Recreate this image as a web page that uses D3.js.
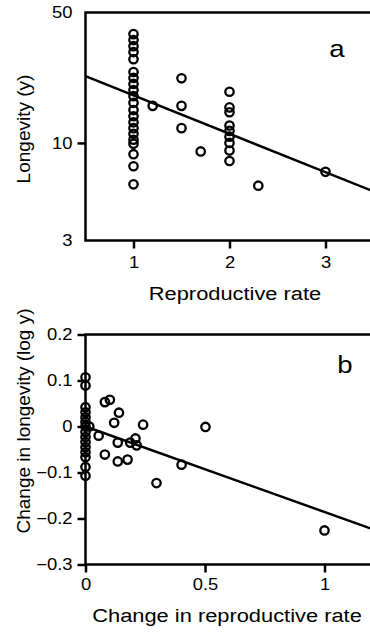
<!DOCTYPE html>
<html>
<head>
<meta charset="utf-8">
<script src="https://cdn.jsdelivr.net/npm/d3@7/dist/d3.min.js"></script>
<style>
  body { margin: 0; background: #fff; }
  svg { display: block; font-family: "Liberation Sans", Arial, sans-serif; }
  .frame { fill: none; stroke: #000; stroke-width: 2.5; }
  .dot { fill: none; stroke: #000; stroke-width: 2.3; }
  .fit { fill: none; stroke: #000; stroke-width: 2.5; }
  .tick line { stroke: #000; stroke-width: 2.5; }
  .tick text { font-size: 16px; fill: #000; }
  .axis-label { font-size: 19px; fill: #000; }
  .panel-label { font-size: 24px; fill: #000; }
</style>
</head>
<body>
<svg width="370" height="635"></svg>
<script>
// panel a: reproductive rate vs longevity (years)
const rateA = [1, 1, 1, 1, 1, 1, 1, 1, 1, 1, 1, 1, 1, 1, 1, 1, 1, 1, 1, 1, 1,
  1.2, 1.5, 1.5, 1.5, 1.7, 2, 2, 2, 2, 2, 2, 2, 2, 2, 2.3, 3];
const longevityA = [38.3, 35.6, 33.0, 30.7, 28.1, 24.0, 22.3, 20.7, 19.2, 17.8, 16.4,
  15.0, 13.9, 12.9, 12.0, 11.2, 10.4, 9.9, 8.7, 7.5, 6.0,
  15.8, 22.2, 15.8, 12.0, 9.0, 18.8, 15.5, 14.6, 12.4, 11.6, 10.8, 10.0, 9.1, 8.0, 5.9, 7.0];
const fitAx = [0.5, 3.5];
const fitAy = [22.8, 5.5];
const ticksAx = [1, 2, 3];
const ticksAy = [3, 10, 50];

// panel b: change in reproductive rate vs change in longevity (log y)
const rateB = [0, 0, 0, 0, 0, 0, 0, 0, 0, 0, 0, 0, 0, 0, 0,
  0.016, 0.081, 0.102, 0.14, 0.12, 0.241, 0.055, 0.135, 0.187, 0.209, 0.214,
  0.081, 0.135, 0.176, 0.502, 0.402, 0.297, 1.0];
const longevityB = [0.107, 0.089, 0.042, 0.031, 0.020, 0.010, 0, -0.012, -0.023, -0.034,
  -0.045, -0.056, -0.067, -0.088, -0.107,
  0.0, 0.053, 0.058, 0.030, 0.008, 0.004, -0.020, -0.035, -0.035, -0.026, -0.041,
  -0.061, -0.076, -0.072, -0.001, -0.083, -0.123, -0.226];
const fitBx = [0, 1.2];
const fitBy = [0, -0.223];
const ticksBx = [0, 0.5, 1];
const ticksBy = [-0.3, -0.2, -0.1, 0, 0.1, 0.2];

const svg = d3.select('svg');
const stretch = 1.15; // the lettering in the scan is wide

const drawPanel = (opts) => {
  const { xScale, yScale, xs, ys, fx, fy, xTicks, yTicks, xFmt, yFmt, xPad,
          xLabel, yLabel, xLabelX, xLabelY, yLabelY, tag, tagX, tagY, endTicks } = opts;
  const [x0, x1] = xScale.range();
  const [y0, y1] = yScale.range();

  const g = svg.append('g');

  // frame (runs off the right edge like the original)
  g.append('rect').attr('class', 'frame')
    .attr('x', x0).attr('y', y1)
    .attr('width', x1 - x0).attr('height', y0 - y1);

  const xAxisG = g.append('g')
    .attr('transform', `translate(0,${y0})`)
    .call(d3.axisBottom(xScale).tickValues(xTicks).tickFormat(xFmt).tickSize(8).tickPadding(xPad));
  xAxisG.select('.domain').remove();
  xAxisG.selectAll('.tick text').attr('transform', `scale(${stretch},1)`);

  const yAxisG = g.append('g')
    .attr('transform', `translate(${x0},0)`)
    .call(d3.axisLeft(yScale).tickValues(yTicks).tickFormat(yFmt).tickSize(8).tickPadding(5));
  yAxisG.select('.domain').remove();
  yAxisG.selectAll('.tick text').each(function() {
    const t = d3.select(this);
    t.attr('transform', `translate(${t.attr('x')},0) scale(${stretch},1)`).attr('x', 0);
  });
  if (!endTicks) {
    yAxisG.selectAll('.tick line').filter(d => d === yTicks[0] || d === yTicks[yTicks.length - 1]).remove();
  }

  const line = d3.line().x(d => xScale(d[0])).y(d => yScale(d[1]));
  g.append('path').attr('class', 'fit')
    .attr('d', line(d3.zip(fx, fy)));

  g.selectAll('circle').data(d3.zip(xs, ys))
    .enter().append('circle')
      .attr('class', 'dot')
      .attr('cx', d => xScale(d[0]))
      .attr('cy', d => yScale(d[1]))
      .attr('r', 4.2);

  g.append('text').attr('class', 'axis-label')
    .attr('transform', `translate(${xLabelX},${xLabelY}) scale(${stretch},1)`)
    .attr('text-anchor', 'middle')
    .text(xLabel);

  g.append('text').attr('class', 'axis-label')
    .attr('transform', `translate(30,${yLabelY}) rotate(-90)`)
    .attr('text-anchor', 'middle')
    .text(yLabel);

  g.append('text').attr('class', 'panel-label')
    .attr('transform', `translate(${tagX},${tagY}) scale(${stretch},1)`)
    .attr('text-anchor', 'middle')
    .text(tag);
};

drawPanel({
  xScale: d3.scaleLinear().domain([0.5, 3.5]).range([85.5, 373.5]),
  yScale: d3.scaleLog().domain([3, 50]).range([240.5, 12.5]),
  xs: rateA, ys: longevityA, fx: fitAx, fy: fitAy,
  xTicks: ticksAx, yTicks: ticksAy, xPad: 8,
  xFmt: d3.format('d'), yFmt: d3.format('d'),
  xLabel: 'Reproductive rate', xLabelX: 235, xLabelY: 300,
  yLabel: 'Longevity (y)', yLabelY: 129,
  tag: 'a', tagX: 337, tagY: 57, endTicks: false
});

drawPanel({
  xScale: d3.scaleLinear().domain([0, 1.2]).range([85.5, 372.3]),
  yScale: d3.scaleLinear().domain([-0.3, 0.2]).range([564.5, 334.5]),
  xs: rateB, ys: longevityB, fx: fitBx, fy: fitBy,
  xTicks: ticksBx, yTicks: ticksBy, xPad: 6,
  xFmt: d => d === 0 ? '0' : d3.format('.1~f')(d), yFmt: d => d === 0 ? '0' : d3.format('.1f')(d),
  xLabel: 'Change in reproductive rate', xLabelX: 227, xLabelY: 622,
  yLabel: 'Change in longevity (log y)', yLabelY: 421,
  tag: 'b', tagX: 345, tagY: 373, endTicks: true
});
</script>
</body>
</html>
